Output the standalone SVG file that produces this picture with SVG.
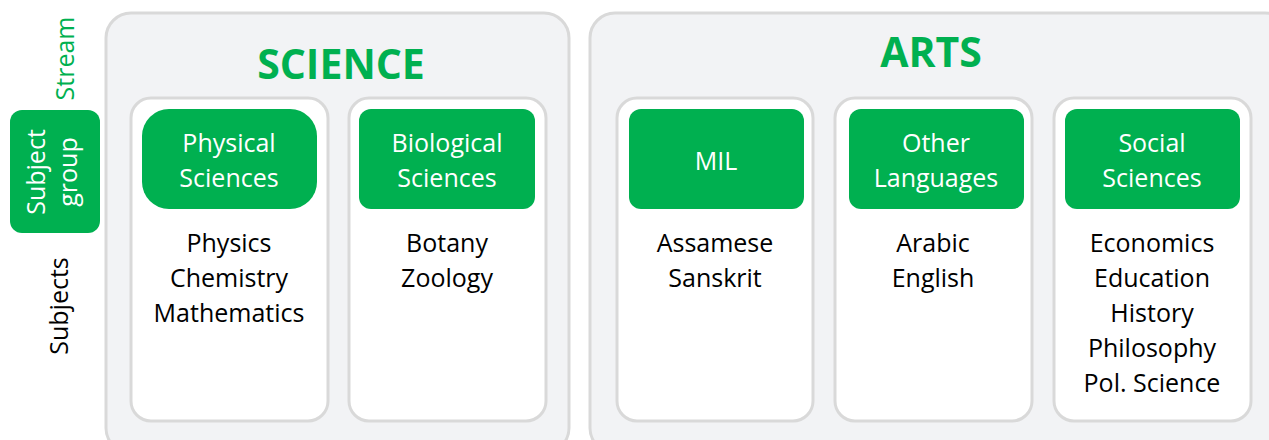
<svg xmlns="http://www.w3.org/2000/svg" width="1269" height="440" viewBox="0 0 1269 440">
<style>
.outer{fill:#F2F3F5;stroke:#D9D9D9;stroke-width:3}
.inner{fill:#FFFFFF;stroke:#D9D9D9;stroke-width:3}
.hdr{fill:#00B050}
.t{font-family:"Open Sans","Liberation Sans",sans-serif;font-size:25px;text-anchor:middle}
.w{fill:#FFFFFF}
.k{fill:#000000}
.g{fill:#00B050}
.title{font-family:"Open Sans","Liberation Sans",sans-serif;font-size:41px;font-weight:bold;fill:#00B050;text-anchor:middle}
</style>
<rect width="1269" height="440" fill="#FFFFFF"/>
<g id="legend">
<text class="t g" transform="translate(74,58.5) rotate(-90)">Stream</text>
<rect class="hdr" x="10" y="110" width="90" height="123" rx="12"/>
<text class="t w" transform="translate(45,172) rotate(-90)">Subject</text>
<text class="t w" transform="translate(77,172) rotate(-90)">group</text>
<text class="t k" transform="translate(68,306) rotate(-90)">Subjects</text>
</g>
<g id="science">
<rect class="outer" x="106" y="13" width="463" height="440" rx="25"/>
<text class="title" x="341" y="79">SCIENCE</text>
</g>
<g id="arts">
<rect class="outer" x="590" y="13" width="700" height="440" rx="25"/>
<text class="title" x="931" y="67">ARTS</text>
</g>
<g id="physical">
<rect class="inner" x="131" y="98" width="197" height="323" rx="20"/>
<rect class="hdr" x="142" y="109" width="175" height="100" rx="27"/>
<text class="t w" x="229" y="152">Physical</text>
<text class="t w" x="229" y="187">Sciences</text>
<text class="t k" x="229" y="252">Physics</text>
<text class="t k" x="229" y="287">Chemistry</text>
<text class="t k" x="229" y="322">Mathematics</text>
</g>
<g id="biological">
<rect class="inner" x="349" y="98" width="197" height="323" rx="20"/>
<rect class="hdr" x="359" y="109" width="176" height="100" rx="12"/>
<text class="t w" x="447" y="152">Biological</text>
<text class="t w" x="447" y="187">Sciences</text>
<text class="t k" x="447" y="252">Botany</text>
<text class="t k" x="447" y="287">Zoology</text>
</g>
<g id="mil">
<rect class="inner" x="617" y="98" width="196" height="323" rx="20"/>
<rect class="hdr" x="629" y="109" width="175" height="100" rx="12"/>
<text class="t w" x="716" y="170">MIL</text>
<text class="t k" x="715" y="252">Assamese</text>
<text class="t k" x="715" y="287">Sanskrit</text>
</g>
<g id="other-languages">
<rect class="inner" x="835" y="98" width="197" height="323" rx="20"/>
<rect class="hdr" x="849" y="109" width="175" height="100" rx="12"/>
<text class="t w" x="936" y="152">Other</text>
<text class="t w" x="936" y="187">Languages</text>
<text class="t k" x="933" y="252">Arabic</text>
<text class="t k" x="933" y="287">English</text>
</g>
<g id="social">
<rect class="inner" x="1054" y="98" width="197" height="323" rx="20"/>
<rect class="hdr" x="1065" y="109" width="175" height="100" rx="12"/>
<text class="t w" x="1152" y="152">Social</text>
<text class="t w" x="1152" y="187">Sciences</text>
<text class="t k" x="1152" y="252">Economics</text>
<text class="t k" x="1152" y="287">Education</text>
<text class="t k" x="1152" y="322">History</text>
<text class="t k" x="1152" y="357">Philosophy</text>
<text class="t k" x="1152" y="392">Pol. Science</text>
</g>
<g id="connectors"></g>
</svg>
